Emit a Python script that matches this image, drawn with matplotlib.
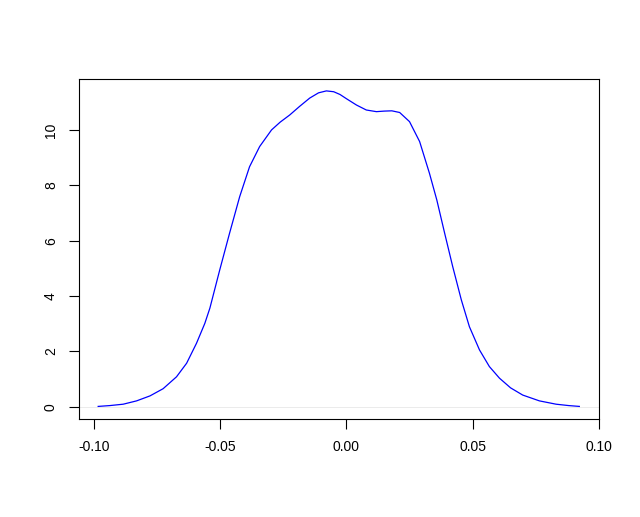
import matplotlib
matplotlib.use("Agg")
import matplotlib.pyplot as plt

x_vals = [-0.0982, -0.0936, -0.0883, -0.0830, -0.0777, -0.0725, -0.0672, -0.0632,
          -0.0593, -0.0560, -0.0540, -0.0501, -0.0462, -0.0422, -0.0383,
          -0.0343, -0.0296, -0.0262, -0.0224, -0.0185, -0.0145, -0.0110, -0.0079,
          -0.0050, -0.0025, 0.0000, 0.0040, 0.0079, 0.0119, 0.0150, 0.0180,
          0.0211, 0.0250, 0.0290, 0.0329, 0.0358, 0.0389, 0.0421, 0.0455, 0.0487,
          0.0527, 0.0566, 0.0606, 0.0650, 0.0698, 0.0764, 0.0830, 0.0880, 0.0922]
density = [0.01, 0.04, 0.09, 0.21, 0.39, 0.65, 1.08, 1.57,
           2.29, 3.01, 3.56, 4.94, 6.27, 7.59, 8.67,
           9.40, 10.00, 10.28, 10.54, 10.85, 11.15, 11.34, 11.41,
           11.38, 11.28, 11.13, 10.90, 10.72, 10.66, 10.68, 10.69,
           10.63, 10.30, 9.58, 8.43, 7.47, 6.27, 5.06, 3.86, 2.89,
           2.05, 1.45, 1.03, 0.68, 0.42, 0.21, 0.09, 0.04, 0.01]
x_ticks = [-0.10, -0.05, 0.00, 0.05, 0.10]
x_labels = ["-0.10", "-0.05", "0.00", "0.05", "0.10"]
y_ticks = [0, 2, 4, 6, 8, 10]

plt.rcParams['font.family'] = ['Liberation Sans', 'DejaVu Sans']
fig = plt.figure(figsize=(6.4, 5.17), dpi=100)
ax = fig.add_axes([0.123, 0.1896, 0.813, 0.6576])
ax.axhline(0, color="#e8e8e8", lw=0.6, zorder=1)
ax.plot(x_vals, density, color="blue", lw=0.9, zorder=2)
ax.set_xlim(-0.1059, 0.0998)
ax.set_ylim(-0.444, 11.84)
ax.set_xticks(x_ticks)
ax.set_xticklabels(x_labels)
ax.set_yticks(y_ticks)
ax.set_yticklabels([str(v) for v in y_ticks], rotation=90, va="center")
ax.tick_params(direction="out", length=7, width=0.8, labelsize=10, pad=8)
for s in ax.spines.values():
    s.set_linewidth(0.8)
fig.savefig("out.png", dpi=100)
